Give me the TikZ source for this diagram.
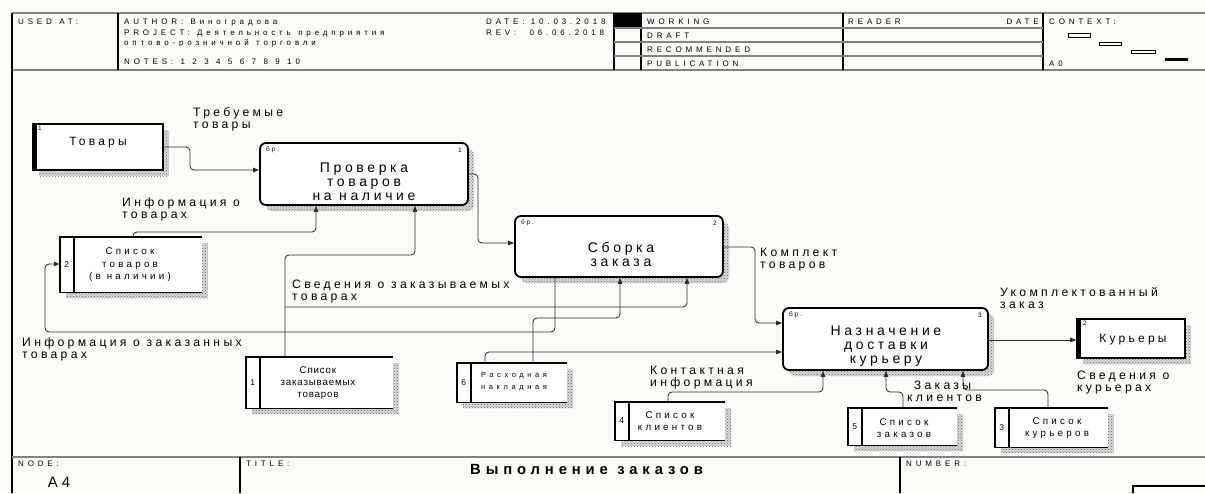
\documentclass[tikz,border=0pt]{standalone}
\usepackage{fontspec}
\setmainfont{Liberation Sans}
\newfontfamily\fsp[LetterSpace=27]{Liberation Sans}
\newfontfamily\fpr[LetterSpace=26]{Liberation Sans}
\newfontfamily\fst[LetterSpace=33]{Liberation Sans}
\newfontfamily\fsn[LetterSpace=8]{Liberation Sans}
\newfontfamily\fhd[LetterSpace=48]{Liberation Sans}
\usetikzlibrary{arrows.meta,patterns,calc}
\definecolor{bg}{RGB}{252,251,247}
\definecolor{ln}{RGB}{45,45,45}
\definecolor{hl}{RGB}{130,130,130}
\newcommand\lblfont{\fsp\fontsize{12.2}{12}\selectfont}
\newcommand\procfont{\fpr\fontsize{14}{14}\selectfont}
\newcommand\storefont{\fst\fontsize{9.8}{12.5}\selectfont}
\newcommand\smallfont{\fsp\fontsize{6.5}{7}\selectfont}
\newcommand\hdfont{\fhd\fontsize{8}{8}\selectfont}
\tikzset{
  flow/.style={draw=ln, line width=0.85pt, rounded corners=4pt, -{Triangle[length=6pt,width=4.5pt]}},
  hline/.style={draw=hl, line width=1.2pt},
  bline/.style={draw=black, line width=1.2pt},
  shad/.style={preaction={fill=gray!30, transform canvas={shift={(6pt,-6pt)}}},
               preaction={pattern=crosshatch dots, pattern color=black!60, transform canvas={shift={(6pt,-6pt)}}}},
  procbox/.style={shad, draw=black, fill=white, line width=1.8pt, rounded corners=6pt, inner sep=0pt},
  entbox/.style={shad, draw=black, fill=white, line width=1.6pt, inner sep=0pt},
  storebox/.style={shad, fill=white, inner sep=0pt},
  lbl/.style={font=\lblfont, align=left, anchor=north west, inner sep=0pt},
  ptext/.style={font=\procfont, align=center, inner sep=0pt},
  stext/.style={font=\storefont, align=center, inner sep=0pt},
  numtext/.style={font=\smallfont, inner sep=0pt},
  hd/.style={font=\hdfont, anchor=base west, inner sep=0pt},
  hdnext/.style={hd, xshift=#1},
  hdnext/.default=7pt,
}
\begin{document}
\begin{tikzpicture}[x=1pt,y=-1pt]
\useasboundingbox (0,0) rectangle (1205,493);
\fill[bg] (0,0) rectangle (1205,493);
% ---------- header frame ----------
\draw[hline] (12,13) -- (1205,13);
\draw[hline] (12,70) -- (1205,70);
\draw[bline] (118,13) -- (118,70);
\draw[bline] (614,13) -- (614,70);
\draw[bline] (641,13) -- (641,70);
\draw[bline] (843,13) -- (843,70);
\draw[bline] (1043,13) -- (1043,70);
\fill[black] (614,13) rectangle (641,28);
\foreach \yy in {28,42,56} { \draw[hline] (614,\yy) -- (1043,\yy); }
\draw[black, line width=1.8pt] (12,13) -- (12,493);
% context glyphs
\draw[black, line width=0.7pt] (1068,33) rectangle (1090,37);
\draw[black, line width=0.7pt] (1099,42) rectangle (1121,45.5);
\draw[black, line width=0.7pt] (1131,50.5) rectangle (1155,53);
\fill[black] (1165,57.5) rectangle (1188,60.5);
% header texts
\node[hd] (used) at (18,24) {USED};
\node[hdnext] (usedat) at (used.base east) {AT:};
\node[hd] (author) at (124,24) {AUTHOR:};
\node[hdnext] (authorn) at (author.base east) {Виноградова};
\node[hd] (project) at (124,35) {PROJECT:};
\node[hdnext] (projecta) at (project.base east) {Деятельность};
\node[hdnext] (projectb) at (projecta.base east) {предприятия};
\node[hd] (project2) at (124,45) {оптово-розничной};
\node[hdnext] (project2b) at (project2.base east) {торговли};
\node[hd] (notes) at (124,64) {NOTES:};
\node[hdnext] (n1) at (notes.base east) {1};
\foreach \i [count=\j from 1] in {2,...,10} {
  \node[hdnext] (n\i) at (n\j.base east) {\i};
}
\node[hd] (date) at (486,24) {DATE:};
\node[hdnext=6pt] (datev) at (date.base east) {10.03.2018};
\node[hd] (rev) at (486,35) {REV:};
\node[hdnext=13pt] (revv) at (rev.base east) {06.06.2018};
\node[hd] (working) at (647,24) {WORKING};
\node[hd] (draft) at (647,38) {DRAFT};
\node[hd] (recom) at (647,52) {RECOMMENDED};
\node[hd] (public) at (647,66) {PUBLICATION};
\node[hd] (reader) at (848,24) {READER};
\node[hd, anchor=base east] (rdate) at (1039,24) {DATE};
\node[hd] (context) at (1049,24) {CONTEXT:};
\node[hd] (azero) at (1049,66) {A0};
% ---------- footer ----------
\draw[hline] (12,457) -- (1205,457);
\draw[bline] (240,457) -- (240,493);
\draw[bline] (900,457) -- (900,493);
\draw[bline] (1133,493) -- (1133,486) -- (1205,486);
\node[hd] (nodelbl) at (18,466) {NODE:};
\node[font=\fsp\fontsize{15}{16}\selectfont, inner sep=0pt] (afour) at (59,482) {A4};
\node[hd] (titlelbl) at (246,466) {TITLE:};
\node[hd] (numlbl) at (906,466) {NUMBER:};
\node[font=\fst\fontsize{14.8}{16}\selectfont\bfseries, inner sep=0pt, anchor=base west] (title) at (470,474) {Выполнение};
\node[font=\fst\fontsize{14.8}{16}\selectfont\bfseries, inner sep=0pt, anchor=base west, xshift=9pt] (title2) at (title.base east) {заказов};
% ---------- processes ----------
\node[procbox, minimum width=208, minimum height=62] (p1) at (364,174) {};
\node[ptext] (p1t) at (364,182) {Проверка\\товаров\\на наличие};
\node[numtext, anchor=west] (p1a) at (266,150) {бр.};
\node[numtext, anchor=east] (p1n) at (462,150) {1};
\node[procbox, minimum width=208, minimum height=61] (p2) at (619,246.5) {};
\node[ptext] (p2t) at (621,254) {Сборка\\заказа};
\node[numtext, anchor=west] (p2a) at (521,223) {бр.};
\node[numtext, anchor=east] (p2n) at (717,223) {2};
\node[procbox, minimum width=205, minimum height=62] (p3) at (885.5,339) {};
\node[ptext] (p3t) at (886,346) {Назначение\\доставки\\курьеру};
\node[numtext, anchor=west] (p3a) at (789,315) {бр.};
\node[numtext, anchor=east] (p3n) at (982,315) {3};
% ---------- external entities ----------
\node[entbox, minimum width=130, minimum height=46] (e1) at (98,147) {};
\fill[black] (e1.north west) rectangle ($(e1.south west)+(5,0)$);
\node[ptext, font=\fsp\fontsize{12}{12}\selectfont] (e1t) at (98,143) {Товары};
\node[numtext] (e1n) at (40,128) {1};
\node[entbox, minimum width=108, minimum height=39] (e2) at (1131,338.5) {};
\fill[black] (e2.north west) rectangle ($(e2.south west)+(5,0)$);
\node[ptext, font=\fsp\fontsize{12}{12}\selectfont] (e2t) at (1133,340) {Курьеры};
\node[numtext] (e2n) at (1085,323) {2};
% ---------- data stores ----------
\foreach \nm/\cx/\cy/\w/\h/\num in {s2/131/264.5/142/55/2, s1/319.5/382.5/147/51/1, s6/512/382.5/110/39/6, s4/670/421/110/38/4, s5/902.5/426.5/109/37/5, s3/1051.5/427.5/113/39/3}{
  \node[storebox, minimum width=\w, minimum height=\h] (\nm) at (\cx,\cy) {};
  \draw[black, line width=1.4pt] (\nm.north east) -- (\nm.north west) -- (\nm.south west) -- (\nm.south east);
  \draw[black, line width=1.4pt] ($(\nm.north west)+(14,0)$) -- ($(\nm.south west)+(14,0)$);
  \node[numtext, font=\fsp\fontsize{8.5}{9}\selectfont] (\nm n) at ($(\nm.west)+(7,0)$) {\num};
}
\node[stext] (s2t) at (130,265) {Список\\товаров\\(в наличии)};
\node[stext, font=\fsn\fontsize{9.8}{12}\selectfont] (s1t) at (318,383) {Список\\заказываемых\\товаров};
\node[stext, font=\fhd\fontsize{7.5}{12}\selectfont] (s6t) at (514,382) {Расходная\\накладная};
\node[stext] (s4t) at (670,421) {Список\\клиентов};
\node[stext] (s5t) at (904,428) {Список\\заказов};
\node[stext] (s3t) at (1057,428) {Список\\курьеров};
% ---------- connectors ----------
\draw[flow] (e1.east) -| (190,170) -- (p1.west |- 0,170);
\draw[flow] (p1.east) -| (478,243) -- (p2.west |- 0,243);
\draw[flow] (p2.east |- 0,247) -| (755,323) -- (p3.west |- 0,323);
\draw[flow] (p3.east |- 0,340) -- (e2.west |- 0,340);
\draw[flow] (s2.north -| 133,0) |- (316,232) -- (p1.south -| 316,0);
\draw[flow] (s1.north -| 285,0) |- (415,255) -- (p1.south -| 415,0);
\coordinate (b1) at (285,307);
\draw[flow] (b1) -| (p2.south -| 687,0);
\draw[flow] (p2.south -| 555,0) |- (45,332) |- (s2.west |- 0,264);
\draw[flow] (s6.north -| 533,0) |- (620,318) -- (p2.south -| 620,0);
\draw[flow] (s6.north -| 485,0) |- (p3.west |- 0,352);
\draw[flow] (s4.north -| 668,0) |- (823,392) -- (p3.south -| 823,0);
\draw[flow] (s5.north -| 903,0) |- (886,392) -- (p3.south -| 886,0);
\draw[flow] (s3.north -| 1048,0) |- (963,390) -- (p3.south -| 963,0);
% ---------- labels ----------
\node[lbl] (l1) at (193,107) {Требуемые\\товары};
\node[lbl] (l2) at (122,197) {Информация о\\товарах};
\node[lbl] (l3) at (292,280) {Сведения о заказываемых\\товарах};
\node[lbl] (l4) at (22,337) {Информация о заказанных\\товарах};
\node[lbl] (l5) at (760,248) {Комплект\\товаров};
\node[lbl] (l6) at (1000,287) {Укомплектованный\\заказ};
\node[lbl] (l7) at (1077,371) {Сведения о\\курьерах};
\node[lbl] (l8) at (650,366) {Контактная\\информация};
\node[lbl] (l9) at (907,381) {\ Заказы\\клиентов};
\end{tikzpicture}
\end{document}
